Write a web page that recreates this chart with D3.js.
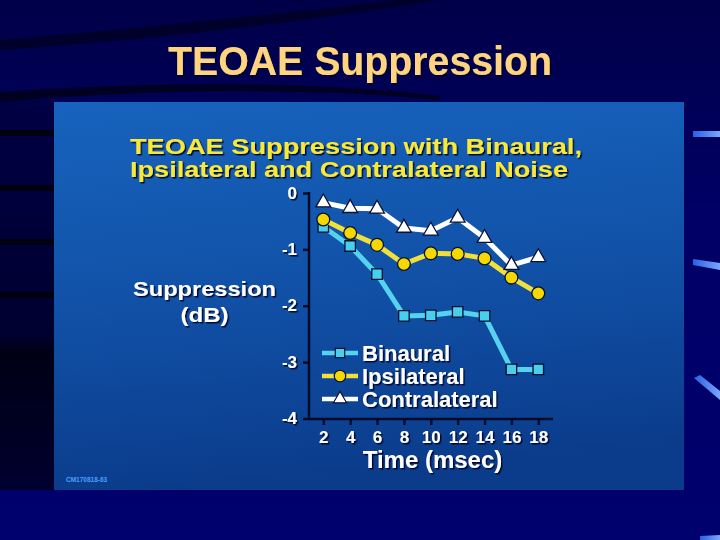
<!DOCTYPE html>
<html><head><meta charset="utf-8">
<script src="https://cdn.jsdelivr.net/npm/d3@7"></script>
<style>html,body{margin:0;padding:0;background:#000066;}svg{display:block;}</style>
</head><body>
<script>
const times = [2, 4, 6, 8, 10, 12, 14, 16, 18];
const binaural = [-0.60, -0.94, -1.44, -2.18, -2.17, -2.11, -2.18, -3.13, -3.13];
const ipsilateral = [-0.47, -0.71, -0.92, -1.26, -1.07, -1.08, -1.16, -1.50, -1.78];
const contralateral = [-0.17, -0.27, -0.28, -0.62, -0.67, -0.44, -0.80, -1.28, -1.14];
const yTicks = [0, -1, -2, -3, -4];
const yTickLabels = ["0", "-1", "-2", "-3", "-4"];
const seriesNames = ["Binaural", "Ipsilateral", "Contralateral"];

const W = 720, H = 540;
const FONT = "Liberation Sans, Arial, sans-serif";
const svg = d3.select("body").append("svg").attr("width", W).attr("height", H);
const defs = svg.append("defs");

const bg = defs.append("linearGradient").attr("id","bg").attr("x1",0).attr("y1",0).attr("x2",0).attr("y2",1);
bg.append("stop").attr("offset",0).attr("stop-color","#000048");
bg.append("stop").attr("offset",0.4).attr("stop-color","#000066");
bg.append("stop").attr("offset",1).attr("stop-color","#00006e");
svg.append("rect").attr("width",W).attr("height",H).attr("fill","url(#bg)");

// left dark region
const lg = defs.append("linearGradient").attr("id","lg").attr("x1",0).attr("y1",0).attr("x2",0).attr("y2",1);
lg.append("stop").attr("offset",0).attr("stop-color","#000044");
lg.append("stop").attr("offset",0.6).attr("stop-color","#000030");
lg.append("stop").attr("offset",0.65).attr("stop-color","#000014");
lg.append("stop").attr("offset",1).attr("stop-color","#000030");
svg.append("rect").attr("x",0).attr("y",100).attr("width",56).attr("height",390).attr("fill","url(#lg)");
[133,188,242,295].forEach(y=>svg.append("rect").attr("x",0).attr("y",y-3).attr("width",56).attr("height",6).attr("fill","#000010"));

// swooshes top-left
svg.append("path").attr("d","M0,40 C120,30 260,16 400,0 L440,0 C300,22 150,40 0,50 Z").attr("fill","#000028").attr("opacity",0.9);
svg.append("path").attr("d","M0,92 C140,82 300,80 440,96 L440,100 C300,86 140,90 0,102 Z").attr("fill","#000022");

// right blue dashes
const dash = defs.append("linearGradient").attr("id","dash").attr("x1",0).attr("x2",1);
dash.append("stop").attr("offset",0).attr("stop-color","#2a60e0");
dash.append("stop").attr("offset",1).attr("stop-color","#7aa6ff");
svg.append("path").attr("d","M693,131 L720,131 L720,137 L693,137 Z").attr("fill","url(#dash)");
svg.append("path").attr("d","M693,259 L720,263 L720,270 L693,265 Z").attr("fill","url(#dash)");
svg.append("path").attr("d","M694,378 L700,375 L720,391 L720,400 Z").attr("fill","url(#dash)");
svg.append("path").attr("d","M700,536 L720,535 L720,540 L700,540 Z").attr("fill","url(#dash)");

// panel
const pg = defs.append("linearGradient").attr("id","pg").attr("x1",0).attr("y1",0).attr("x2",0.15).attr("y2",1);
pg.append("stop").attr("offset",0).attr("stop-color","#1763bd");
pg.append("stop").attr("offset",0.5).attr("stop-color","#1152a8");
pg.append("stop").attr("offset",1).attr("stop-color","#0b3c8c");
svg.append("rect").attr("x",54).attr("y",102).attr("width",630).attr("height",388).attr("fill","url(#pg)");

// shadow filter
const f = defs.append("filter").attr("id","sh").attr("x","-10%").attr("y","-10%").attr("width","130%").attr("height","140%");
f.append("feDropShadow").attr("dx",1.5).attr("dy",1.5).attr("stdDeviation",0.6).attr("flood-color","#000020").attr("flood-opacity",0.9);

// main title
svg.append("text").attr("x",168).attr("y",75)
  .attr("font-family",FONT).attr("font-weight","bold").attr("font-size",40)
  .attr("textLength",384).attr("lengthAdjust","spacingAndGlyphs")
  .attr("fill","#ffd480").attr("filter","url(#sh)").text("TEOAE Suppression");

// chart title
const ct = svg.append("g").attr("font-family",FONT).attr("font-weight","bold")
  .attr("font-size",22.5).attr("fill","#f8e838").attr("filter","url(#sh)");
ct.append("text").attr("x",130).attr("y",154).attr("textLength",452).attr("lengthAdjust","spacingAndGlyphs").text("TEOAE Suppression with Binaural,");
ct.append("text").attr("x",130).attr("y",177).attr("textLength",438).attr("lengthAdjust","spacingAndGlyphs").text("Ipsilateral and Contralateral Noise");

// scales
const x = d3.scaleLinear().domain([2,18]).range([323.3,538.3]);
const y = d3.scaleLinear().domain([0,-4]).range([193,418.5]);

const axisCol = "#0a0a2a";
// y axis
const yAxis = svg.append("g").attr("transform","translate(309,0)")
  .call(d3.axisLeft(y).tickValues(yTicks).tickSize(6).tickPadding(6).tickFormat((d,i)=>yTickLabels[i]));
yAxis.select(".domain").attr("stroke",axisCol).attr("stroke-width",2.5).attr("d","M0,192V419.5");
yAxis.selectAll(".tick line").attr("stroke",axisCol).attr("stroke-width",2.5);
yAxis.selectAll(".tick text").attr("fill","#ffffff").attr("font-family",FONT)
  .attr("font-weight","bold").attr("font-size",17).attr("filter","url(#sh)").attr("dy","0.3em");

// x axis
const xAxis = svg.append("g").attr("transform","translate(0,419)")
  .call(d3.axisBottom(x).tickValues(times).tickSize(6).tickPadding(6));
xAxis.select(".domain").attr("stroke",axisCol).attr("stroke-width",2.5).attr("d","M308,0H553");
xAxis.selectAll(".tick line").attr("stroke",axisCol).attr("stroke-width",2.5);
xAxis.selectAll(".tick text").attr("fill","#ffffff").attr("font-family",FONT)
  .attr("font-weight","bold").attr("font-size",17).attr("filter","url(#sh)");

// axis titles
const at = svg.append("g").attr("font-family",FONT).attr("font-weight","bold")
  .attr("fill","#ffffff").attr("filter","url(#sh)").attr("text-anchor","middle");
at.append("text").attr("x",204.5).attr("y",296).attr("font-size",21)
  .attr("textLength",143).attr("lengthAdjust","spacingAndGlyphs").text("Suppression");
at.append("text").attr("x",204.5).attr("y",322).attr("font-size",21)
  .attr("textLength",48).attr("lengthAdjust","spacingAndGlyphs").text("(dB)");
at.append("text").attr("x",432.5).attr("y",468).attr("font-size",24).text("Time (msec)");

// small code label
svg.append("text").attr("x",66).attr("y",482).attr("font-family",FONT)
  .attr("font-weight","bold").attr("font-size",6.5).attr("fill","#4aa0ff").text("CM170818-63");

// series
const series = [
  {name:seriesNames[0], values:binaural, line:"#55d2ee", fill:"#48cfee", shape:"square"},
  {name:seriesNames[1], values:ipsilateral, line:"#f2e03a", fill:"#f4d800", shape:"circle"},
  {name:seriesNames[2], values:contralateral, line:"#ffffff", fill:"#ffffff", shape:"triangle"}
];
const line = d3.line().x((d,i)=>x(times[i])).y(d=>y(d));
const symFor = s => s==="square"?d3.symbolSquare:(s==="circle"?d3.symbolCircle:d3.symbolTriangle);
const sizeFor = s => s==="square"?110:(s==="circle"?130:95);

series.forEach(s=>{
  const g = svg.append("g");
  g.append("path").attr("d",line(s.values)).attr("fill","none").attr("stroke",s.line).attr("stroke-width",5)
    .attr("stroke-linejoin","round");
  g.selectAll("path.m").data(s.values).enter().append("path").attr("class","m")
    .attr("transform",(d,i)=>`translate(${x(times[i])},${y(d)})`)
    .attr("d",d3.symbol().type(symFor(s.shape)).size(sizeFor(s.shape)))
    .attr("fill",s.fill).attr("stroke","#0a1030").attr("stroke-width",1.3);
});

// legend
const leg = svg.append("g");
series.forEach((s,i)=>{
  const ly = 353 + i*23;
  leg.append("line").attr("x1",322).attr("x2",358).attr("y1",ly).attr("y2",ly).attr("stroke",s.line).attr("stroke-width",4.5);
  leg.append("path").attr("transform",`translate(340,${ly})`)
    .attr("d",d3.symbol().type(symFor(s.shape)).size(sizeFor(s.shape)*0.8))
    .attr("fill",s.fill).attr("stroke","#0a1030").attr("stroke-width",1.2);
  leg.append("text").attr("x",362).attr("y",ly+7.5).attr("font-family",FONT)
    .attr("font-weight","bold").attr("font-size",22).attr("fill","#ffffff").attr("filter","url(#sh)").text(s.name);
});
</script>
</body></html>
